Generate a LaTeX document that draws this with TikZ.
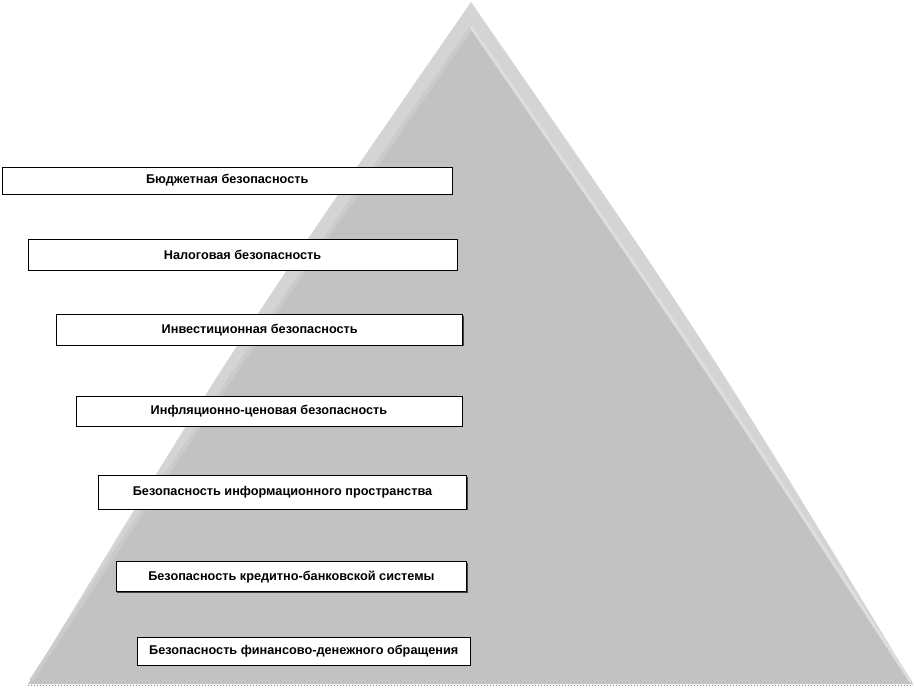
\documentclass[tikz,border=0pt]{standalone}
\usepackage{fontspec}
\setsansfont{Liberation Sans}
\usepackage{tikz}
\usetikzlibrary{shadows}

\definecolor{pyrlight}{HTML}{D4D4D4}
\definecolor{pyrdark}{HTML}{C2C2C2}
\definecolor{pyrshine}{HTML}{DEDEDE}
\definecolor{pyredge}{HTML}{CBCBCB}

\begin{document}
\begin{tikzpicture}[x=1pt,y=-1pt,thick,
  level node/.style={rectangle,fill=white,draw=black,line width=0.8pt,
  font=\sffamily\bfseries\fontsize{12.7}{14}\selectfont,inner sep=0pt,
  general shadow={shadow xshift=1pt,shadow yshift=-1pt,fill=black!75}}]

  \useasboundingbox (0,0) rectangle (916,697);

%pyramide
  \fill[pyrlight] (471,2) .. controls (239.5,336.5) .. (28,684) -- (913,684)
    .. controls (702.5,336.5) .. (471,2) -- cycle;
  \fill[pyrdark] (471,26) .. controls (246,353) .. (28,684) -- (913,684)
    .. controls (696,353) .. (471,26) -- cycle;
  \draw[pyredge, line width=4pt] (471,28) .. controls (246,353) .. (31,681);
  \draw[pyrshine, line width=3pt] (471,27) .. controls (696,353) .. (911,682);
  \draw[black!45, dotted, line width=1pt] (28,685) -- (913,685);

%niveaux
  \node[level node, minimum width=449.5pt, minimum height=27pt] (S1) at (227.25,180.5) {Бюджетная безопасность};
  \node[level node, minimum width=428.7pt, minimum height=31pt] (S2) at (242.6,254.5) {Налоговая безопасность};
  \node[level node, minimum width=406pt, minimum height=30.3pt] (S3) at (259.7,329.9) {Инвестиционная безопасность};
  \node[level node, minimum width=386pt, minimum height=29.3pt] (S4) at (269,411.4) {Инфляционно-ценовая безопасность};
  \node[level node, minimum width=368.4pt, minimum height=33.3pt] (S5) at (282.5,492.4) {Безопасность информационного пространства};
  \node[level node, minimum width=350.7pt, minimum height=30pt] (S6) at (291.4,576.7) {Безопасность кредитно-банковской системы};
  \node[level node, minimum width=332.7pt, minimum height=28pt] (S7) at (303.7,651) {Безопасность финансово-денежного обращения};

\end{tikzpicture}
\end{document}
